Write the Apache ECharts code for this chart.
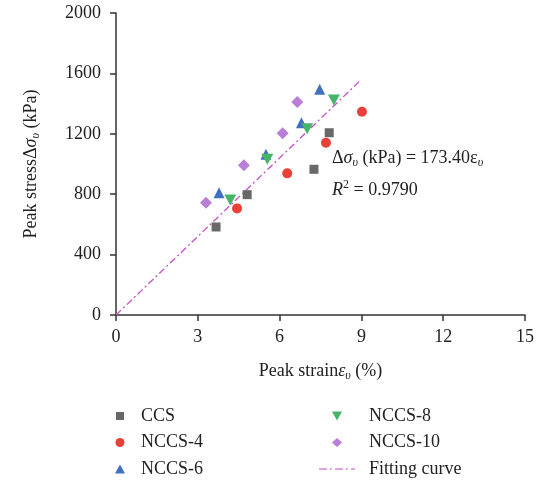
<!DOCTYPE html>
<html>
<head>
<meta charset="utf-8">
<script src="https://cdn.jsdelivr.net/npm/echarts@6/dist/echarts.min.js"></script>
<style>
  html, body { margin: 0; padding: 0; background: #fff; }
  #main { width: 547px; height: 482px; }
</style>
</head>
<body>
<div id="main"></div>
<script>
// values: [strain %, stress kPa]
var ccs = [[3.67, 583], [4.81, 797], [7.26, 965], [7.82, 1207]];
var nccs4 = [[4.44, 706], [6.28, 938], [7.70, 1141], [9.02, 1346]];
var nccs6 = [[3.78, 810], [5.50, 1064], [6.80, 1274], [7.47, 1495]];
var nccs8 = [[4.19, 762], [5.55, 1031], [7.01, 1234], [7.99, 1424]];
var nccs10 = [[3.30, 744], [4.69, 991], [6.11, 1203], [6.65, 1411]];
var fitLine = [[0, 0], [8.92, 1546]];

var serif = "Liberation Serif";
var ink = "#222";
var downTriangle = "path://M0,0 L10,0 L5,9 Z";

// legend icons: the lone moves fix the box size so shapes are not stretched
var iconSquare = "path://M0,0 Z M22,9 Z M7,0.5 L15,0.5 L15,8.5 L7,8.5 Z";
var iconUp = "path://M0,0 Z M22,9 Z M11,0 L16,9 L6,9 Z";
var iconDown = "path://M0,0 Z M36,9 Z M13,0 L23,0 L18,9 Z";
var iconDiamond = "path://M0,0 Z M36,9 Z M18,0 L23,4.5 L18,9 L13,4.5 Z";
var iconDashDot = "path://M0,0 Z M36,9 Z M0,3.9 L8,3.9 L8,5.1 L0,5.1 Z M11,3.9 L13,3.9 L13,5.1 L11,5.1 Z " +
  "M16,3.9 L24,3.9 L24,5.1 L16,5.1 Z M27,3.9 L29,3.9 L29,5.1 L27,5.1 Z M32,3.9 L36,3.9 L36,5.1 L32,5.1 Z";

var nameRich = {
  t: { fontFamily: serif, fontSize: 18, color: ink },
  g: { fontFamily: serif, fontSize: 18, fontStyle: "italic", color: ink },
  s: { fontFamily: serif, fontSize: 12, fontStyle: "italic", color: ink, padding: [10, 0, 0, 0] },
};

var myChart = echarts.init(document.getElementById("main"));

var option = {
  animation: false,
  textStyle: { fontFamily: serif },
  grid: { left: 116, right: 22, top: 13, bottom: 167 },
  xAxis: {
    type: "value",
    min: 0,
    max: 15,
    interval: 3,
    name: "{t|Peak strain}{g|ε}{s|υ}{t| (%)}",
    nameLocation: "middle",
    nameGap: 45,
    nameTextStyle: { rich: nameRich },
    axisLine: { lineStyle: { color: "#333", width: 1.5 } },
    axisTick: { inside: false, length: 6, lineStyle: { color: "#333", width: 1.5 } },
    axisLabel: { fontFamily: serif, fontSize: 18, color: ink, margin: 13 },
    splitLine: { show: false },
  },
  yAxis: {
    type: "value",
    min: 0,
    max: 2000,
    interval: 400,
    name: "{t|Peak stressΔ}{g|σ}{s|υ}{t| (kPa)}",
    nameLocation: "middle",
    nameRotate: 90,
    nameGap: 74,
    nameTextStyle: { rich: nameRich },
    axisLine: { show: true, lineStyle: { color: "#333", width: 1.5 } },
    axisTick: { show: true, inside: false, length: 6, lineStyle: { color: "#333", width: 1.5 } },
    axisLabel: {
      fontFamily: serif,
      fontSize: 18,
      color: ink,
      margin: 15,
      formatter: function (v) {
        return String(v);
      },
    },
    splitLine: { show: false },
  },
  legend: [
    {
      data: [
        { name: "CCS", icon: iconSquare },
        { name: "NCCS-4", icon: "circle" },
        { name: "NCCS-6", icon: iconUp },
      ],
      orient: "vertical",
      left: 109,
      top: 407,
      padding: 0,
      itemGap: 8.5,
      itemWidth: 22,
      itemHeight: 9,
      textStyle: { fontFamily: serif, fontSize: 18, color: ink, padding: [0, 0, 0, 5] },
    },
    {
      data: [
        { name: "NCCS-8", icon: iconDown },
        { name: "NCCS-10", icon: iconDiamond },
        { name: "Fitting curve", icon: iconDashDot },
      ],
      orient: "vertical",
      left: 319,
      top: 407,
      padding: 0,
      itemGap: 8.5,
      itemWidth: 36,
      itemHeight: 9,
      textStyle: { fontFamily: serif, fontSize: 18, color: ink, padding: [0, 0, 0, 9] },
    },
  ],
  graphic: [
    {
      type: "text",
      left: 332,
      top: 149,
      style: {
        text: "{t|Δ}{g|σ}{s|υ}{t| (kPa) = 173.40ε}{s|υ}\n{g|R}{p|2}{t| = 0.9790}",
        rich: {
          t: { fontFamily: serif, fontSize: 18, fill: ink, lineHeight: 32 },
          g: { fontFamily: serif, fontSize: 18, fontStyle: "italic", fill: ink, lineHeight: 32 },
          s: { fontFamily: serif, fontSize: 12, fontStyle: "italic", fill: ink, padding: [10, 0, 0, 0] },
          p: { fontFamily: serif, fontSize: 12, fill: ink, padding: [0, 0, 10, 0] },
        },
      },
    },
  ],
  series: [
    {
      name: "Fitting curve",
      type: "line",
      data: fitLine,
      symbol: "none",
      lineStyle: { color: "#c44fc6", width: 1.3, type: [7, 3, 2, 3] },
      itemStyle: { color: "#c44fc6" },
      z: 1,
    },
    {
      name: "CCS",
      type: "scatter",
      data: ccs,
      symbol: "rect",
      symbolSize: 9,
      itemStyle: { color: "#686868", opacity: 1 },
    },
    {
      name: "NCCS-4",
      type: "scatter",
      data: nccs4,
      symbol: "circle",
      symbolSize: 10,
      itemStyle: { color: "#e9403a", opacity: 1 },
    },
    {
      name: "NCCS-6",
      type: "scatter",
      data: nccs6,
      symbol: "triangle",
      symbolSize: 11,
      itemStyle: { color: "#4170c0", opacity: 1 },
    },
    {
      name: "NCCS-8",
      type: "scatter",
      data: nccs8,
      symbol: downTriangle,
      symbolSize: [12, 11],
      itemStyle: { color: "#47b567", opacity: 1 },
    },
    {
      name: "NCCS-10",
      type: "scatter",
      data: nccs10,
      symbol: "diamond",
      symbolSize: 12,
      itemStyle: { color: "#b97ed8", opacity: 1 },
    },
  ],
};

myChart.setOption(option);
</script>
</body>
</html>
